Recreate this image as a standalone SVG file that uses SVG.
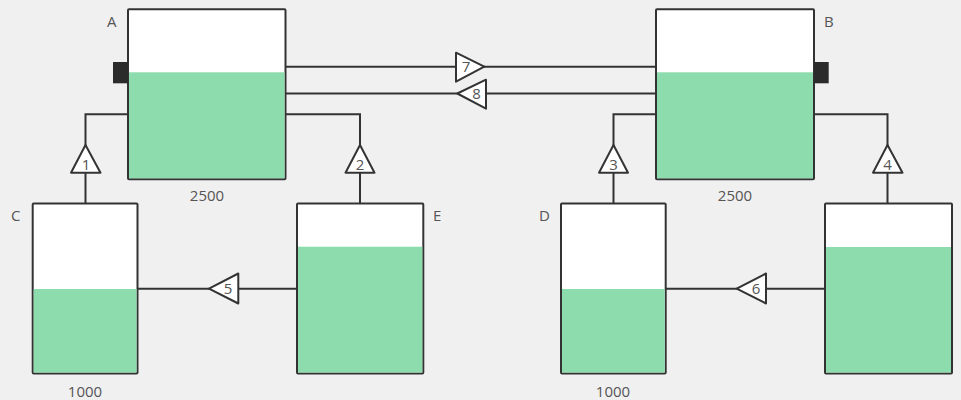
<svg xmlns="http://www.w3.org/2000/svg" width="961" height="400" viewBox="0 0 961 400">
<style>
.shell{fill:#ffffff;stroke:#333333;stroke-width:2}
.liq{fill:#8ddcae}
.edge{fill:none;stroke:#333333;stroke-width:2}
.valve{fill:#ffffff;stroke:#333333;stroke-width:2;stroke-linejoin:round}
.port{fill:#2b2b2b}
text{font-family:"Open Sans","Noto Sans","DejaVu Sans",sans-serif;font-size:15px;fill:#555555}
.num{text-anchor:middle}
</style>
<rect width="961" height="400" fill="#f0f0f0"/>
<g id="connectors">
<path class="edge" d="M286,66.7 H656"/>
<path class="edge" d="M286,93.5 H656"/>
<path class="edge" d="M128,114.3 H85.5 V203.5"/>
<path class="edge" d="M286,114.3 H360 V203.5"/>
<path class="edge" d="M656,114.3 H613.5 V203.5"/>
<path class="edge" d="M814,114.3 H887.5 V203.5"/>
<path class="edge" d="M297,288.7 H137.5"/>
<path class="edge" d="M825,288.7 H665.5"/>
</g>
<g id="valve1"><polygon class="valve" points="85.5,145 71,172.7 100.5,172.7"/><text class="num" x="86" y="169.5">1</text></g>
<g id="valve2"><polygon class="valve" points="360,145 345.5,172.7 374.5,172.7"/><text class="num" x="360" y="169.5">2</text></g>
<g id="valve3"><polygon class="valve" points="613.5,145 599,172.7 628,172.7"/><text class="num" x="613.5" y="169.5">3</text></g>
<g id="valve4"><polygon class="valve" points="887.5,145 873,172.7 902.5,172.7"/><text class="num" x="887.5" y="169.5">4</text></g>
<g id="valve5"><polygon class="valve" points="209,288.7 238.3,273.5 238.3,303.5"/><text class="num" x="228" y="294">5</text></g>
<g id="valve6"><polygon class="valve" points="736.7,288.7 766,273.5 766,303.5"/><text class="num" x="756" y="294">6</text></g>
<g id="valve7"><polygon class="valve" points="484.3,66.7 456,52.7 456,81.7"/><text class="num" x="466" y="72">7</text></g>
<g id="valve8"><polygon class="valve" points="457.3,93.5 486,79.7 486,108.7"/><text class="num" x="476.5" y="99">8</text></g>
<g id="tankA">
<rect class="shell" x="128" y="9.3" width="157.5" height="170" rx="1"/>
<rect class="liq" x="129" y="72.3" width="155.5" height="106"/>
<rect class="port" x="113" y="62" width="15" height="21.3"/>
<text x="107" y="27">A</text>
<text class="num" x="207" y="201">2500</text>
</g>
<g id="tankB">
<rect class="shell" x="656" y="9.3" width="158" height="170" rx="1"/>
<rect class="liq" x="657" y="72.3" width="156" height="106"/>
<rect class="port" x="814" y="62" width="14.7" height="21.3"/>
<text x="824" y="27">B</text>
<text class="num" x="735" y="201">2500</text>
</g>
<g id="tankC">
<rect class="shell" x="32.7" y="203.5" width="104.8" height="170" rx="1"/>
<rect class="liq" x="33.7" y="289" width="102.8" height="83.5"/>
<text x="11" y="221">C</text>
<text class="num" x="85" y="397">1000</text>
</g>
<g id="tankE">
<rect class="shell" x="297" y="203.5" width="126.3" height="170" rx="1"/>
<rect class="liq" x="298" y="246.7" width="124.3" height="125.8"/>
<text x="433" y="221">E</text>
</g>
<g id="tankD">
<rect class="shell" x="561" y="203.5" width="104.7" height="170" rx="1"/>
<rect class="liq" x="562" y="289" width="102.7" height="83.5"/>
<text x="539" y="221">D</text>
<text class="num" x="613" y="397">1000</text>
</g>
<g id="tankF">
<rect class="shell" x="825" y="203.5" width="127" height="170" rx="1"/>
<rect class="liq" x="826" y="247" width="125" height="125.5"/>
</g>
</svg>
